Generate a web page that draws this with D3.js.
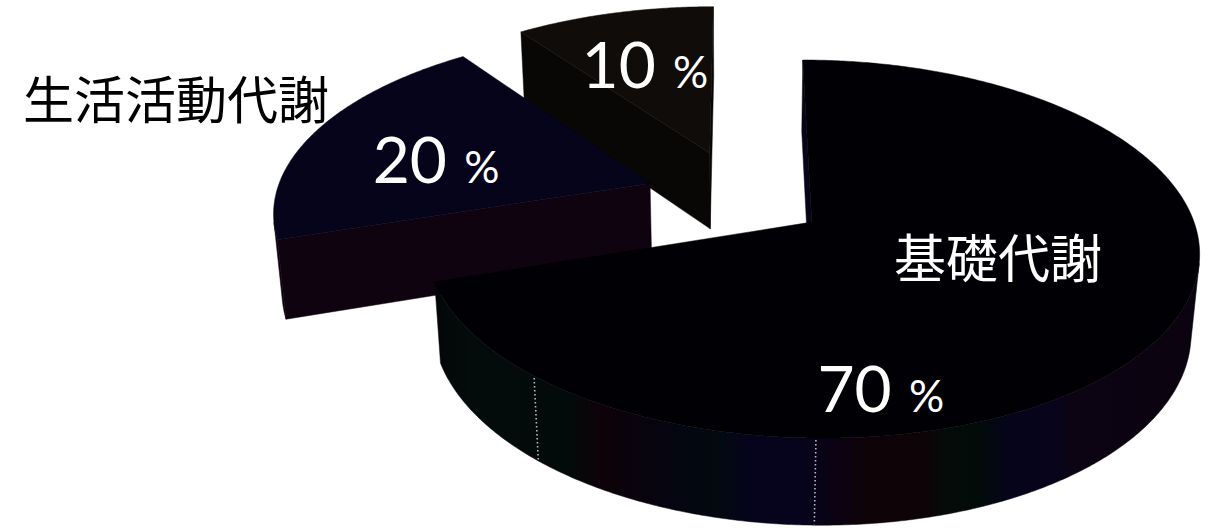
<!DOCTYPE html>
<html>
<head>
<meta charset="utf-8">
<script src="https://cdn.jsdelivr.net/npm/d3@7"></script>
<style>
  html, body { margin: 0; padding: 0; background: #ffffff; overflow: hidden; }
  svg { display: block; }
</style>
</head>
<body>
<svg id="chart" width="1209" height="532"></svg>
<script>
// ---- data ----
const categories = ["基礎代謝", "生活活動代謝", "食事誘発性熱産生"];
const values = [70, 20, 10];
const showCategory = [true, true, false];

// ---- layout & style ----
const explode = [0.232, 0.255, 0.271];          // radial pull-out of each slice (radius units)
const topColors = ["#010004", "#05041b", "#100c09"];
const sideColors = [null, "#0f0310", "#080705"];
// banded front wall of the big slice
const wallBands = [
  [0.00, "#040709"], [0.04, "#030c0a"], [0.16, "#020b0a"], [0.21, "#0d0208"],
  [0.30, "#050511"], [0.36, "#03090f"], [0.40, "#06041c"], [0.47, "#06041c"],
  [0.52, "#0b0211"], [0.56, "#0e0306"], [0.63, "#0e0306"], [0.66, "#030c08"],
  [0.70, "#030b09"], [0.74, "#06041c"], [0.80, "#07041b"], [0.82, "#0d0413"],
  [1.00, "#0c0311"]
];
// label anchors in each slice's own polar frame: [angle deg, radius]
const valueLabelPos = [[171.5, 0.905], [270.2, 0.577], [334.9, 0.456]];
const nameLabelPos = [[122.3, 0.543], [286.0, 1.415], null];
const nameColors = ["#ffffff", "#000000", null];
const seamAngles = [181, 222];                   // faint seams on the big slice's rim

const view = { cx: 740, cy: 197.3, R: 375, tilt: Math.asin(178.2 / 375), dist: 6.285, height: 0.24 };

const svg = d3.select("#chart");
const defs = svg.append("defs");
const grad = defs.append("linearGradient")
  .attr("id", "wall0").attr("gradientUnits", "userSpaceOnUse")
  .attr("x1", 440).attr("x2", 1210).attr("y1", 0).attr("y2", 0);
wallBands.forEach(([o, c]) => grad.append("stop").attr("offset", o).attr("stop-color", c));

const cT = Math.cos(view.tilt), sT = Math.sin(view.tilt);
// perspective projection of a world point (X right, Y up, Z away)
function project(X, Y, Z) {
  const yv = Y * cT + Z * sT;
  const zv = Z * cT - Y * sT;
  const k = view.dist / (view.dist + zv);
  return [view.cx + view.R * X * k, view.cy - view.R * yv * k];
}
const camera = [0, view.dist * sT, -view.dist * cT];
function camDist(X, Y, Z) {
  return Math.hypot(X - camera[0], Y - camera[1], Z - camera[2]);
}
function facing(px, pz, nx, nz) {
  return (camera[0] - px) * nx + (camera[2] - pz) * nz > 0;
}

const line = d3.line().curve(d3.curveLinearClosed);
const H = view.height;

const arcs = d3.pie().sort(null).value(d => d)(values);

const slices = arcs.map((a, i) => {
  const mid = (a.startAngle + a.endAngle) / 2;
  const ox = explode[i] * Math.sin(mid), oz = explode[i] * Math.cos(mid);
  const span = a.endAngle - a.startAngle;
  const n = Math.max(2, Math.ceil(span / (Math.PI / 360)));
  const angles = d3.range(n + 1).map(j => a.startAngle + span * j / n);
  const rim = angles.map(t => [ox + Math.sin(t), oz + Math.cos(t)]);
  const fill = sideColors[i] || "url(#wall0)";

  // radial walls (drawn first; they sit behind the rim wall)
  const radial = [
    { p: rim[0], nx: -Math.cos(a.startAngle), nz: Math.sin(a.startAngle) },
    { p: rim[n], nx: Math.cos(a.endAngle), nz: -Math.sin(a.endAngle) }
  ];
  const radialWalls = radial
    .filter(r => facing((ox + r.p[0]) / 2, (oz + r.p[1]) / 2, r.nx, r.nz))
    .map(r => [project(ox, 0, oz), project(r.p[0], 0, r.p[1]),
               project(r.p[0], -H, r.p[1]), project(ox, -H, oz)]);

  // curved outer wall: merge camera-facing stretches into single polygons
  const runs = [];
  let cur = null;
  for (let j = 0; j < n; j++) {
    const t = (angles[j] + angles[j + 1]) / 2;
    const mx = (rim[j][0] + rim[j + 1][0]) / 2, mz = (rim[j][1] + rim[j + 1][1]) / 2;
    if (facing(mx, mz, Math.sin(t), Math.cos(t))) {
      if (!cur) { cur = [j]; runs.push(cur); }
      cur.push(j + 1);
    } else cur = null;
  }
  const rimWalls = runs.map(idx => {
    const upper = idx.map(j => project(rim[j][0], 0, rim[j][1]));
    const lower = idx.slice().reverse().map(j => project(rim[j][0], -H, rim[j][1]));
    return upper.concat(lower);
  });

  const top = [project(ox, 0, oz)].concat(rim.map(p => project(p[0], 0, p[1])));
  return { i, a, ox, oz, fill, radialWalls, rimWalls, top, d: camDist(ox, 0, oz) };
});

const order = slices.slice().sort((p, q) => q.d - p.d);
const g = svg.append("g");
order.forEach(s => {
  const sg = g.append("g").attr("class", "slice");
  sg.selectAll("path.wall").data(s.radialWalls.concat(s.rimWalls)).join("path")
    .attr("class", "wall")
    .attr("d", w => line(w))
    .attr("fill", s.fill)
    .attr("stroke", s.fill)
    .attr("stroke-width", 0.5)
    .attr("stroke-linejoin", "round");
  if (s.i === 0) {
    seamAngles.forEach(deg => {
      const t = deg * Math.PI / 180;
      const X = s.ox + Math.sin(t), Z = s.oz + Math.cos(t);
      const p0 = project(X, 0, Z), p1 = project(X, -H, Z);
      sg.append("line")
        .attr("x1", p0[0]).attr("y1", p0[1] + 2).attr("x2", p1[0]).attr("y2", p1[1] - 1)
        .attr("stroke", "#e8e8e8").attr("stroke-width", 1.6)
        .attr("stroke-dasharray", "1.5 2.5").attr("opacity", 0.8);
    });
  }
  sg.append("path")
    .attr("d", line(s.top))
    .attr("fill", topColors[s.i])
    .attr("stroke", topColors[s.i])
    .attr("stroke-width", 0.5);
});

// labels
function labelPoint(s, pos) {
  const t = pos[0] * Math.PI / 180;
  return project(s.ox + pos[1] * Math.sin(t), 0, s.oz + pos[1] * Math.cos(t));
}
const labels = svg.append("g");
slices.forEach(s => {
  const p = labelPoint(s, valueLabelPos[s.i]);
  const txt = labels.append("text")
    .attr("x", p[0]).attr("y", p[1])
    .attr("text-anchor", "middle")
    .attr("fill", "#ffffff")
    .attr("font-family", "Lato, 'Open Sans', sans-serif");
  txt.append("tspan").attr("font-size", 64).text(values[s.i]);
  txt.append("tspan").attr("font-size", 44).attr("dx", 6).text(" %");

  if (showCategory[s.i] && nameLabelPos[s.i]) {
    const q = labelPoint(s, nameLabelPos[s.i]);
    labels.append("text")
      .attr("x", q[0]).attr("y", q[1])
      .attr("text-anchor", "middle")
      .attr("fill", nameColors[s.i])
      .attr("font-family", "'Noto Sans CJK JP', 'Noto Sans CJK SC', sans-serif")
      .attr("font-size", s.i === 0 ? 52 : 51)
      .text(categories[s.i]);
  }
});
</script>
</body>
</html>
